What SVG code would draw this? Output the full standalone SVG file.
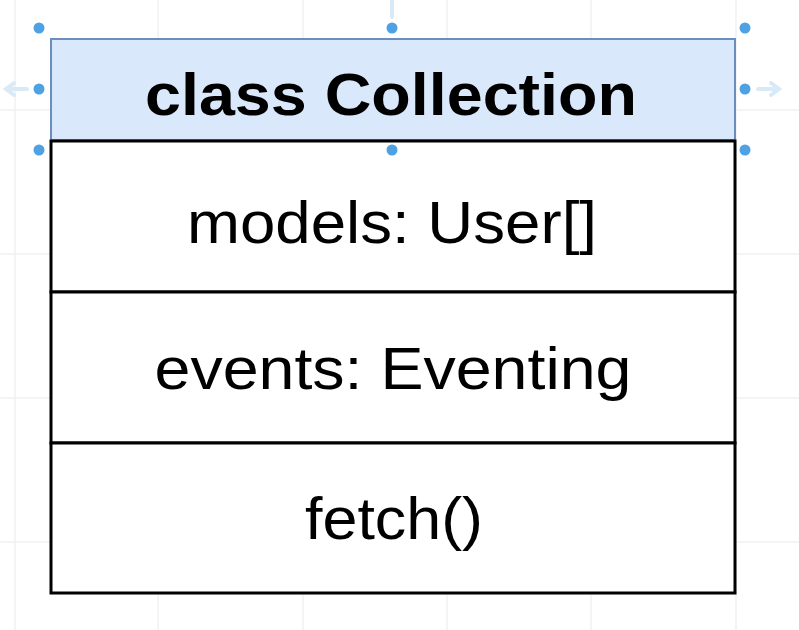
<svg xmlns="http://www.w3.org/2000/svg" width="799" height="630" viewBox="0 0 799 630">
<style>
.grid{stroke:#f1f1f1;stroke-width:1.5;fill:none}
.hdl{fill:#4ea1e3}
.ghost{stroke:#d8e9f8;stroke-width:4;fill:none;stroke-linecap:round}
.row{fill:#ffffff;stroke:#000000;stroke-width:3}
.t{font-family:"Liberation Sans",Arial,Helvetica,sans-serif;font-size:60px;fill:#000000;text-anchor:middle}
.b{font-weight:bold}
</style>
<rect width="799" height="630" fill="#ffffff"/>
<g id="grid">
<path class="grid" d="M15 0V630M158 0V630M303 0V630M447 0V630M591 0V630M736 0V630M0 110H799M0 254H799M0 398H799M0 542H799"/>
</g>
<g id="connectors">
<path class="ghost" d="M392 0V17"/>
<path class="ghost" d="M27 89H6M14 83L6 89L14 95"/>
<path class="ghost" d="M758 89H779M771 83L779 89L771 95"/>
</g>
<g id="class-collection">
<rect x="51" y="39" width="684" height="101" fill="#dae8fc" stroke="#6c8ebf" stroke-width="2"/>
<text class="t b" x="391" y="115" textLength="492" lengthAdjust="spacingAndGlyphs">class Collection</text>
</g>
<g id="models">
<rect class="row" x="51" y="141" width="684" height="151"/>
<text class="t" x="392" y="243" textLength="410" lengthAdjust="spacingAndGlyphs">models: User[]</text>
</g>
<g id="events">
<rect class="row" x="51" y="292" width="684" height="151"/>
<text class="t" x="393" y="389" textLength="477" lengthAdjust="spacingAndGlyphs">events: Eventing</text>
</g>
<g id="fetch">
<rect class="row" x="51" y="443" width="684" height="150"/>
<text class="t" x="394" y="539" textLength="178" lengthAdjust="spacingAndGlyphs">fetch()</text>
</g>
<line x1="52" y1="141" x2="734" y2="141" stroke="#000000" stroke-width="2" stroke-dasharray="3 2"/>
<g id="handles">
<circle class="hdl" cx="39" cy="28" r="5.5"/>
<circle class="hdl" cx="392" cy="28" r="5.5"/>
<circle class="hdl" cx="745" cy="28" r="5.5"/>
<circle class="hdl" cx="39" cy="89" r="5.5"/>
<circle class="hdl" cx="745" cy="89" r="5.5"/>
<circle class="hdl" cx="39" cy="150" r="5.5"/>
<circle class="hdl" cx="392" cy="150" r="5.5"/>
<circle class="hdl" cx="745" cy="150" r="5.5"/>
</g>
</svg>
